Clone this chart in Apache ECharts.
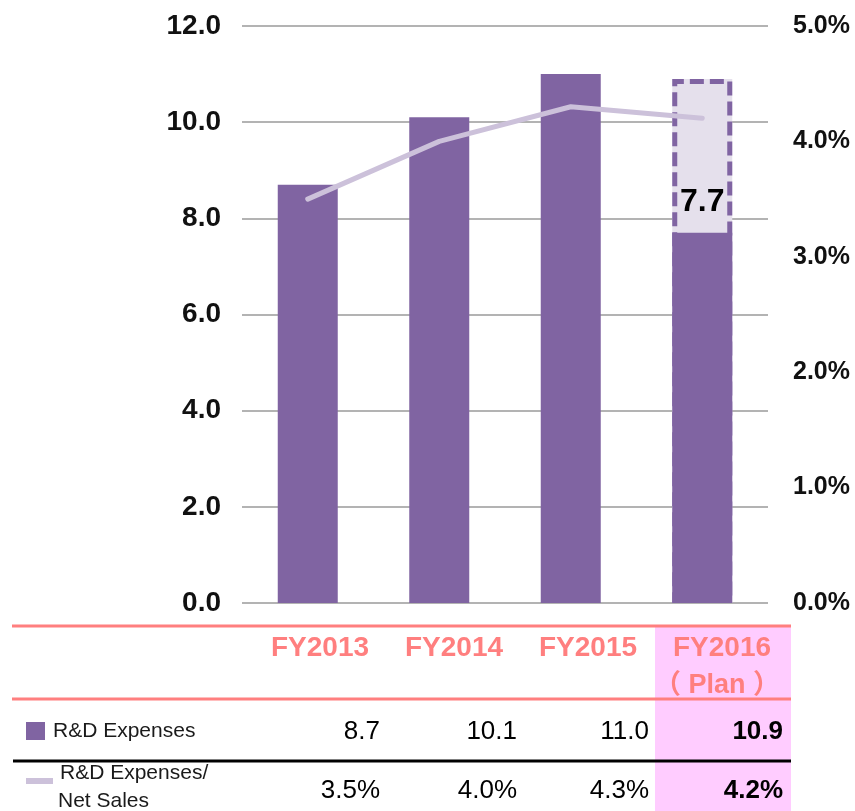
<!DOCTYPE html>
<html>
<head>
<meta charset="utf-8">
<script src="https://cdn.jsdelivr.net/npm/echarts@6/dist/echarts.min.js"></script>
<style>
  html, body { margin: 0; padding: 0; background: #fff; }
  #chart { width: 855px; height: 811px; }
</style>
</head>
<body>
<div id="chart"></div>
<script>
// Fiscal years on the category axis
const categories = ['FY2013', 'FY2014', 'FY2015', 'FY2016'];
// Column headers of the data table under the chart
const tableHeaders = ['FY2013', 'FY2014', 'FY2015', 'FY2016'];
const planNote = '（ Plan ）';
// R&D expenses (billion yen); the last year is the plan
const rdExpenses = [8.7, 10.1, 11.0, 10.9];
// Part of the planned amount drawn as a solid bar
const planSolid = 7.7;
// R&D expenses / net sales (%)
const rdRatio = [3.5, 4.0, 4.3, 4.2];
// Which year is a plan figure
const isPlan = [false, false, false, true];
// Axis ranges
const leftAxis = { min: 0, max: 12, interval: 2 };
const rightAxis = { min: 0, max: 5, interval: 1 };

const PURPLE = '#8064A2';
const LAVENDER = '#CCC1DA';
const PLAN_FILL = '#E5E0EC';
const SALMON = '#FF7F7F';
const PINK = '#FFCCFF';
const FONT = '"Liberation Sans", Arial, "Noto Sans CJK JP", sans-serif';

const actualData = rdExpenses.map((v, i) => (isPlan[i] ? null : v));
const planData = rdExpenses.map((v, i) => (isPlan[i] ? v : null));
const planSolidData = isPlan.map(p => (p ? planSolid : null));

const chart = echarts.init(document.getElementById('chart'));

// Data table drawn below the plot
const headerX = [320, 454, 588, 722];
const valueRightX = [380, 517, 649, 783];
const graphics = [];
graphics.push({ type: 'rect', shape: { x: 655, y: 627, width: 136, height: 184 }, style: { fill: PINK }, z: 0 });
graphics.push({ type: 'line', shape: { x1: 12, y1: 626, x2: 791, y2: 626 }, style: { stroke: SALMON, lineWidth: 3 } });
graphics.push({ type: 'line', shape: { x1: 12, y1: 699, x2: 791, y2: 699 }, style: { stroke: SALMON, lineWidth: 3 } });
graphics.push({ type: 'line', shape: { x1: 13, y1: 761, x2: 791, y2: 761 }, style: { stroke: '#000', lineWidth: 3 } });
tableHeaders.forEach((h, i) => {
  graphics.push({
    type: 'text', x: headerX[i], y: 648,
    style: { text: h, font: 'bold 28px ' + FONT, fill: SALMON, align: 'center', verticalAlign: 'middle' }
  });
  if (isPlan[i]) {
    graphics.push({
      type: 'text', x: headerX[i] - 5, y: 686,
      style: { text: planNote, font: 'bold 27px ' + FONT, fill: SALMON, align: 'center', verticalAlign: 'middle' }
    });
  }
});
// Row labels with legend swatches
graphics.push({ type: 'rect', shape: { x: 26, y: 722, width: 19, height: 18 }, style: { fill: PURPLE } });
graphics.push({ type: 'text', x: 53, y: 731, style: { text: 'R&D Expenses', font: '21px ' + FONT, fill: '#1a1a1a', verticalAlign: 'middle' } });
graphics.push({ type: 'rect', shape: { x: 26, y: 778, width: 27, height: 6 }, style: { fill: LAVENDER } });
graphics.push({ type: 'text', x: 60, y: 773, style: { text: 'R&D Expenses/', font: '21px ' + FONT, fill: '#1a1a1a', verticalAlign: 'middle' } });
graphics.push({ type: 'text', x: 58, y: 801, style: { text: 'Net Sales', font: '21px ' + FONT, fill: '#1a1a1a', verticalAlign: 'middle' } });
rdExpenses.forEach((v, i) => {
  graphics.push({
    type: 'text', x: valueRightX[i], y: 732,
    style: { text: v.toFixed(1), font: (isPlan[i] ? 'bold ' : '') + '26px ' + FONT, fill: '#000', align: 'right', verticalAlign: 'middle' }
  });
});
rdRatio.forEach((v, i) => {
  graphics.push({
    type: 'text', x: valueRightX[i], y: 791,
    style: { text: v.toFixed(1) + '%', font: (isPlan[i] ? 'bold ' : '') + '26px ' + FONT, fill: '#000', align: 'right', verticalAlign: 'middle' }
  });
});

const barWidth = 60;

chart.setOption({
  animation: false,
  backgroundColor: '#fff',
  textStyle: { fontFamily: FONT },
  grid: { left: 242, right: 87, top: 26, bottom: 208, containLabel: false },
  xAxis: {
    type: 'category',
    data: categories,
    axisLine: { show: false },
    axisTick: { show: false },
    axisLabel: { show: false }
  },
  yAxis: [
    {
      type: 'value', min: leftAxis.min, max: leftAxis.max, interval: leftAxis.interval,
      axisLine: { show: false }, axisTick: { show: false },
      splitLine: { lineStyle: { color: '#9a9a9a', width: 1.5 } },
      axisLabel: { formatter: v => v.toFixed(1), fontSize: 28, fontWeight: 'bold', color: '#111', margin: 21, fontFamily: FONT }
    },
    {
      type: 'value', min: rightAxis.min, max: rightAxis.max, interval: rightAxis.interval,
      axisLine: { show: false }, axisTick: { show: false }, splitLine: { show: false },
      axisLabel: { formatter: v => v.toFixed(1) + '%', fontSize: 25, fontWeight: 'bold', color: '#111', margin: 25, fontFamily: FONT }
    }
  ],
  series: [
    {
      name: 'Plan area', type: 'bar', data: planData, barWidth: barWidth, barGap: '-100%',
      itemStyle: { color: PLAN_FILL }, z: 1
    },
    {
      name: 'R&D Expenses', type: 'bar', data: actualData, barWidth: barWidth, barGap: '-100%',
      itemStyle: { color: PURPLE }, z: 2
    },
    {
      name: 'Plan (solid)', type: 'bar', data: planSolidData, barWidth: barWidth, barGap: '-100%',
      itemStyle: { color: PURPLE }, z: 2,
      label: {
        show: true, position: 'top', distance: 15,
        formatter: p => p.value.toFixed(1),
        fontSize: 32, fontWeight: 'bold', color: '#000', fontFamily: FONT
      }
    },
    {
      name: 'Plan outline', type: 'bar', data: planData, barWidth: barWidth, barGap: '-100%',
      itemStyle: { color: 'rgba(0,0,0,0)', borderColor: PURPLE, borderWidth: 5, borderType: [14, 6] }, z: 3
    },
    {
      name: 'R&D Expenses/Net Sales', type: 'line', yAxisIndex: 1, data: rdRatio,
      symbol: 'none', lineStyle: { color: LAVENDER, width: 5, cap: 'round' }, z: 5
    }
  ],
  graphic: graphics
});
</script>
</body>
</html>
